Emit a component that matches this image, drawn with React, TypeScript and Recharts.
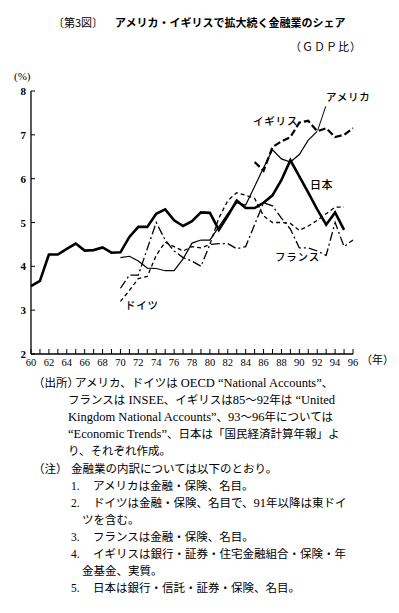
import React from 'react';
import { LineChart, Line, XAxis, YAxis, ReferenceLine } from 'recharts';

// years 1960–1996, shown as two digits
const years = [
  60, 61, 62, 63, 64, 65, 66, 67, 68, 69,
  70, 71, 72, 73, 74, 75, 76, 77, 78, 79,
  80, 81, 82, 83, 84, 85, 86, 87, 88, 89,
  90, 91, 92, 93, 94, 95, 96,
];
const pctTicks = [2, 3, 4, 5, 6, 7, 8];

// share of GDP (%)
const japan = [
  3.55, 3.67, 4.27, 4.27, 4.4, 4.52, 4.36, 4.37, 4.43, 4.31,
  4.32, 4.67, 4.9, 4.9, 5.2, 5.3, 5.05, 4.92, 5.03, 5.23,
  5.22, 4.83, 5.15, 5.5, 5.33, 5.33, 5.45, 5.62, 5.97, 6.42,
  6.05, 5.68, 5.3, 4.95, 5.23, 4.83, null,
];
const usa = [
  null, null, null, null, null, null, null, null, null, null,
  4.2, 4.23, 4.12, 3.96, 3.95, 3.9, 3.9, 4.17, 4.53, 4.6,
  4.6, 4.9, 5.2, 5.45, 5.4, 5.82, 6.25, 6.66, 6.45, 6.38,
  6.55, 6.88, 7.08, null, null, null, null,
];
const uk = [
  null, null, null, null, null, null, null, null, null, null,
  null, null, null, null, null, null, null, null, null, null,
  null, null, null, null, null, 6.38, 6.18, 6.72, 6.85, 6.95,
  7.28, 7.32, 7.08, 7.15, 6.95, 7.0, 7.15,
];
const germany = [
  null, null, null, null, null, null, null, null, null, null,
  3.2, 3.45, 3.72, 3.77, 4.25, 4.55, 4.45, 4.35, 4.45, 4.42,
  4.5, 5.1, 5.5, 5.68, 5.62, 5.55, 5.15, 5.0, 5.0, 4.98,
  4.82, 4.92, 5.05, 5.2, 5.35, 5.35, null,
];
const france = [
  null, null, null, null, null, null, null, null, null, null,
  3.5, 3.8, 3.8, 4.4, 5.0, 4.6, 4.35, 4.2, 4.12, 4.0,
  4.5, 4.52, 4.52, 4.4, 4.45, 4.95, 5.45, 5.38, 5.1, 4.85,
  4.42, 4.42, 4.35, 4.25, 5.0, 4.45, 4.6,
];

const data = years.map((year, i) => ({
  year,
  japan: japan[i],
  usa: usa[i],
  uk: uk[i],
  germany: germany[i],
  france: france[i],
}));

const serif = '"Liberation Serif", "Noto Sans CJK JP", serif';
const gothic = '"Noto Sans CJK JP", sans-serif';

const YearTick = ({ x, y, payload }: any) => (
  <g>
    <line x1={x} y1={y} x2={x} y2={y - 5} stroke="#000" strokeWidth={1} />
    {payload.value % 2 === 0 && (
      <text x={x} y={y + 12} textAnchor="middle" fontSize={10.5} fontFamily={serif} fill="#000">
        {payload.value}
      </text>
    )}
  </g>
);

const PctTick = ({ x, y, payload }: any) => (
  <g>
    <line x1={x} y1={y} x2={x + 4} y2={y} stroke="#000" strokeWidth={1} />
    <text x={x - 5} y={y + 4} textAnchor="end" fontSize={11} fontWeight="bold" fontFamily={serif} fill="#000">
      {payload.value}
    </text>
  </g>
);

const label = (text: string, left: number, top: number, size = 10.5, spacing = 0.8) => (
  <div
    style={{
      position: 'absolute',
      left,
      top,
      fontSize: size,
      letterSpacing: spacing,
      fontFamily: gothic,
      fontWeight: 500,
      lineHeight: 1,
      whiteSpace: 'nowrap',
    }}
  >
    {text}
  </div>
);

// footnote rows: [label, indent, text]
const notes: [string, number, string][] = [
  ['（出所）', 75, 'アメリカ、ドイツは OECD “National Accounts”、'],
  ['', 68, 'フランスは INSEE、イギリスは85〜92年は “United'],
  ['', 68, 'Kingdom National Accounts”、93〜96年については'],
  ['', 68, '“Economic Trends”、日本は「国民経済計算年報」よ'],
  ['', 68, 'り、それぞれ作成。'],
  ['（注）', 71, '金融業の内訳については以下のとおり。'],
  ['1.', 93, 'アメリカは金融・保険、名目。'],
  ['2.', 93, 'ドイツは金融・保険、名目で、91年以降は東ドイ'],
  ['', 82, 'ツを含む。'],
  ['3.', 93, 'フランスは金融・保険、名目。'],
  ['4.', 93, 'イギリスは銀行・証券・住宅金融組合・保険・年'],
  ['', 82, '金基金、実質。'],
  ['5.', 93, '日本は銀行・信託・証券・保険、名目。'],
];

// latin runs in the notes are set a little larger, as in the print
const noteText = (text: string) =>
  text.split(/([A-Za-z0-9“” .]+)/).map((part, i) =>
    /[A-Za-z0-9“”]/.test(part) ? (
      <span key={i} style={{ fontSize: 12.5 }}>{part}</span>
    ) : (
      <span key={i}>{part}</span>
    ),
  );

export default function App() {
  return (
    <div
      style={{
        position: 'absolute',
        top: 0,
        left: 0,
        width: 399,
        height: 613,
        background: '#fff',
        color: '#000',
        overflow: 'hidden',
      }}
    >
      <div style={{ position: 'absolute', left: 53, top: 17, fontFamily: gothic, fontSize: 11, lineHeight: 1, whiteSpace: 'nowrap' }}>
        <span>〔第3図〕</span>
        <span style={{ fontWeight: 'bold', marginLeft: 12 }}>アメリカ・イギリスで拡大続く金融業のシェア</span>
      </div>
      <div style={{ position: 'absolute', left: 290, top: 41, fontFamily: gothic, fontSize: 11, letterSpacing: 1, lineHeight: 1 }}>
        （ＧＤＰ比）
      </div>
      <div style={{ position: 'absolute', left: 14, top: 71, fontFamily: serif, fontSize: 11, lineHeight: 1 }}>(%)</div>
      <div style={{ position: 'absolute', left: 361, top: 354, fontFamily: gothic, fontSize: 11, lineHeight: 1 }}>（年）</div>

      <div style={{ position: 'absolute', left: 0, top: 0 }}>
        <LineChart width={399} height={400} data={data} margin={{ top: 91, right: 46, bottom: 26, left: 0 }}>
          <XAxis
            dataKey="year"
            type="number"
            domain={[60, 96]}
            ticks={years}
            interval={0}
            height={20}
            tickSize={0}
            tickMargin={0}
            tick={<YearTick />}
            tickLine={false}
            axisLine={{ stroke: '#000', strokeWidth: 1.3 }}
          />
          <YAxis
            type="number"
            domain={[2, 8]}
            ticks={pctTicks}
            interval={0}
            width={31}
            tickSize={0}
            tickMargin={0}
            tick={<PctTick />}
            tickLine={false}
            axisLine={{ stroke: '#000', strokeWidth: 1.3 }}
          />
          <ReferenceLine
            segment={[{ x: 92.05, y: 7.1 }, { x: 92.95, y: 7.65 }]}
            stroke="#000"
            strokeWidth={1}
            ifOverflow="visible"
          />
          <Line dataKey="usa" stroke="#000" strokeWidth={1.2} dot={false} isAnimationActive={false} />
          <Line dataKey="germany" stroke="#000" strokeWidth={1.3} strokeDasharray="4 3" dot={false} isAnimationActive={false} />
          <Line dataKey="france" stroke="#000" strokeWidth={1.3} strokeDasharray="9 3 2 3" dot={false} isAnimationActive={false} />
          <Line dataKey="uk" stroke="#000" strokeWidth={2.2} strokeDasharray="7 3" dot={false} isAnimationActive={false} />
          <Line dataKey="japan" stroke="#000" strokeWidth={2.6} dot={false} isAnimationActive={false} />
        </LineChart>
      </div>

      {label('アメリカ', 326, 92)}
      {label('イギリス', 253, 116)}
      {label('日本', 310, 179, 11, 0.5)}
      {label('フランス', 275, 252)}
      {label('ドイツ', 125, 300)}

      <div style={{ position: 'absolute', left: 0, top: 0, fontFamily: serif, fontSize: 11.5 }}>
        {notes.map(([tag, indent, text], i) => (
          <div key={i} style={{ position: 'absolute', top: 375 + i * 17.1, left: 0, lineHeight: '17px', whiteSpace: 'nowrap' }}>
            {tag && <span style={{ position: 'absolute', left: tag.length > 2 ? 33 : 71 }}>{tag}</span>}
            <span style={{ position: 'absolute', left: indent }}>{noteText(text)}</span>
          </div>
        ))}
      </div>
    </div>
  );
}
